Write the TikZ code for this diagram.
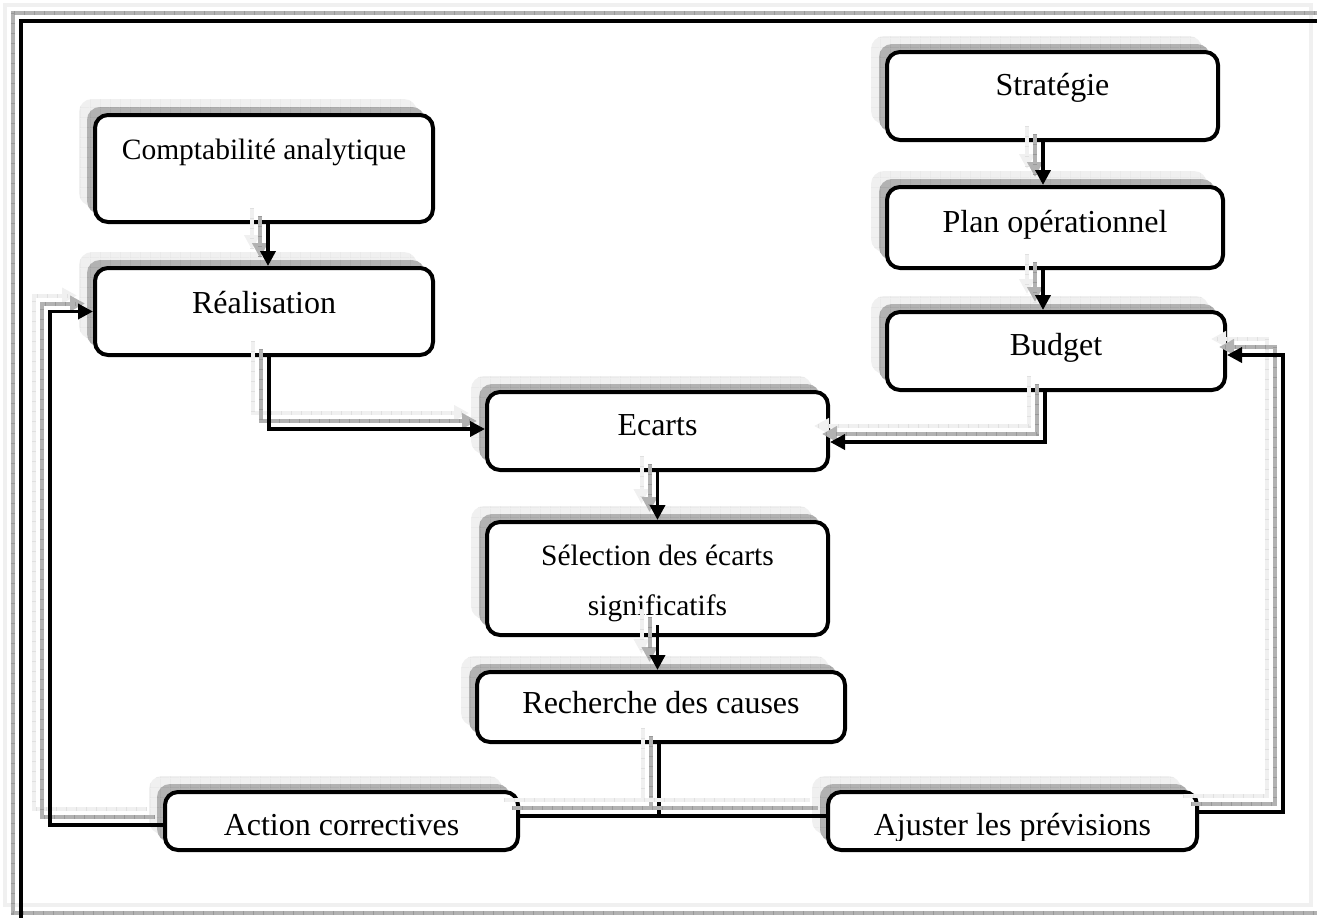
\documentclass[tikz,border=0pt]{standalone}
\usepackage{fontspec}
\setmainfont{Liberation Serif}
\usetikzlibrary{arrows.meta,shadows,calc,patterns.meta}

\definecolor{shadedark}{gray}{0.70}
\definecolor{shadelight}{gray}{0.94}
\definecolor{griddark}{gray}{0.60}
\definecolor{gridlight}{gray}{0.88}

% fine grid texture used inside the shadows
\tikzdeclarepattern{
  name=shadegrid,
  type=uncolored,
  bounding box={(0pt,0pt) and (10pt,10pt)},
  tile size={(10pt,10pt)},
  code={\draw[line width=0.7pt] (0pt,0pt) -- (10pt,0pt) (0pt,0pt) -- (0pt,10pt);}
}

\tikzset{
  flowbox/.style={draw=black, line width=4pt, rounded corners=13pt, fill=white, inner sep=0pt,
    general shadow={shadow xshift=-16pt, shadow yshift=16pt, fill=shadelight},
    general shadow={shadow xshift=-16pt, shadow yshift=16pt, pattern={shadegrid}, pattern color=gridlight},
    general shadow={shadow xshift=-8pt, shadow yshift=8pt, fill=shadedark},
    general shadow={shadow xshift=-8pt, shadow yshift=8pt, pattern={shadegrid}, pattern color=griddark}},
  lbl/.style={anchor=base, inner sep=0pt, font=\fontsize{32}{38}\selectfont},
  lblsmall/.style={anchor=base, inner sep=0pt, font=\fontsize{29.5}{35}\selectfont},
  wire/.style={draw=black, line width=3.6pt},
  wiredark/.style={draw=shadedark, line width=4pt},
  wirelight/.style={draw=shadelight, line width=4pt},
  ticksdark/.style={draw=griddark, line width=4pt, dash pattern=on 0.8pt off 9.2pt},
  tickslight/.style={draw=gridlight, line width=4pt, dash pattern=on 0.8pt off 9.2pt},
  tip/.style={-{Triangle[length=15pt,width=15pt]}},
  frameline/.style={line width=3.7pt}
}

% connector with its two offset shadow copies
\newcommand\shconn[2][]{%
  \draw[wirelight, #1, transform canvas={xshift=-16pt,yshift=16pt}] #2;
  \draw[tickslight, transform canvas={xshift=-16pt,yshift=16pt}] #2;
  \draw[wiredark, #1, transform canvas={xshift=-8pt,yshift=8pt}] #2;
  \draw[ticksdark, transform canvas={xshift=-8pt,yshift=8pt}] #2;
  \draw[wire, #1] #2;}

\begin{document}
\begin{tikzpicture}[x=1pt,y=-1pt]
\useasboundingbox (0,0) rectangle (1317,918);
\clip (0,0) rectangle (1317,918);

% page frame and its shadows
\draw[frameline, draw=shadelight] (5,5) rectangle (1311,905);
\draw[frameline, draw=shadedark] (13,13) rectangle (1319,913);
\draw[frameline, draw=griddark, dash pattern=on 0.8pt off 9.2pt] (13,13) rectangle (1319,913);
\draw[frameline, draw=black] (21,21) rectangle (1327,921);

% boxes
\node[flowbox, minimum width=338pt, minimum height=107pt] (compta) at (264,168.5) {};
\node[flowbox, minimum width=338pt, minimum height=87pt]  (real)   at (264,311.5) {};
\node[flowbox, minimum width=331pt, minimum height=88pt]  (strat)  at (1052.5,96) {};
\node[flowbox, minimum width=336pt, minimum height=81pt]  (plan)   at (1055,227.5) {};
\node[flowbox, minimum width=338pt, minimum height=78pt]  (budget) at (1056,351) {};
\node[flowbox, minimum width=341pt, minimum height=78pt]  (ecarts) at (657.5,431) {};
\node[flowbox, minimum width=341pt, minimum height=113pt] (selec)  at (657.5,578.5) {};
\node[flowbox, minimum width=368pt, minimum height=70pt]  (rech)   at (661,707) {};
\node[flowbox, minimum width=353pt, minimum height=58pt]  (action) at (341.5,821) {};
\node[flowbox, minimum width=369pt, minimum height=58pt]  (ajust)  at (1012.5,821) {};

% labels
\node[lblsmall] (tcompta) at (compta.center |- 0,159) {Comptabilité analytique};
\node[lbl] (treal)   at (real.center |- 0,313)   {Réalisation};
\node[lbl] (tstrat)  at (strat.center |- 0,95)   {Stratégie};
\node[lbl] (tplan)   at (plan.center |- 0,232)   {Plan opérationnel};
\node[lbl] (tbudget) at (budget.center |- 0,355) {Budget};
\node[lbl] (tecarts) at (ecarts.center |- 0,435) {Ecarts};
\node[lblsmall] (tselec1) at (selec.center |- 0,565) {Sélection des écarts};
\node[lblsmall] (tselec2) at (selec.center |- 0,615) {significatifs};
\node[lbl] (trech)   at (rech.center |- 0,713)   {Recherche des causes};
\node[lbl] (taction) at (action.center |- 0,835) {Action correctives};
\begin{scope}
  \clip (ajust.north west) rectangle ([yshift=12pt]ajust.south east);
  \node[lbl] (tajust) at (ajust.center |- 0,835) {Ajuster les prévisions};
\end{scope}

% fixed points of the connectors
\coordinate (jn) at (659,816);
\coordinate (lx) at (50,312);
\coordinate (rx) at (1283,355);

% connectors
\shconn[tip]{([xshift=4pt]compta.south) -- ([xshift=4pt]real.north)}
\shconn[tip]{([xshift=-9.5pt]strat.south) -- ([xshift=-12pt]plan.north)}
\shconn[tip]{([xshift=-12pt]plan.south) -- ([xshift=-13pt]budget.north)}
\shconn[tip]{([xshift=5pt]real.south) |- ([yshift=2pt]ecarts.west)}
\shconn[tip]{([xshift=-11pt]budget.south) |- ([yshift=-11pt]ecarts.east)}
\shconn[tip]{(ecarts.south) -- (selec.north)}
\shconn[tip]{([yshift=12pt]selec.south) -- (selec.south |- rech.north)}
\shconn{(rech.south -| jn) -- (jn)}
\shconn{(action.east |- jn) -- (ajust.west |- jn)}
\shconn[tip]{([yshift=-4pt]action.west) -| (real.west -| lx) -- (real.west)}
\shconn[tip]{([yshift=9pt]ajust.east) -| (rx) -- (rx -| budget.east)}

\end{tikzpicture}
\end{document}
